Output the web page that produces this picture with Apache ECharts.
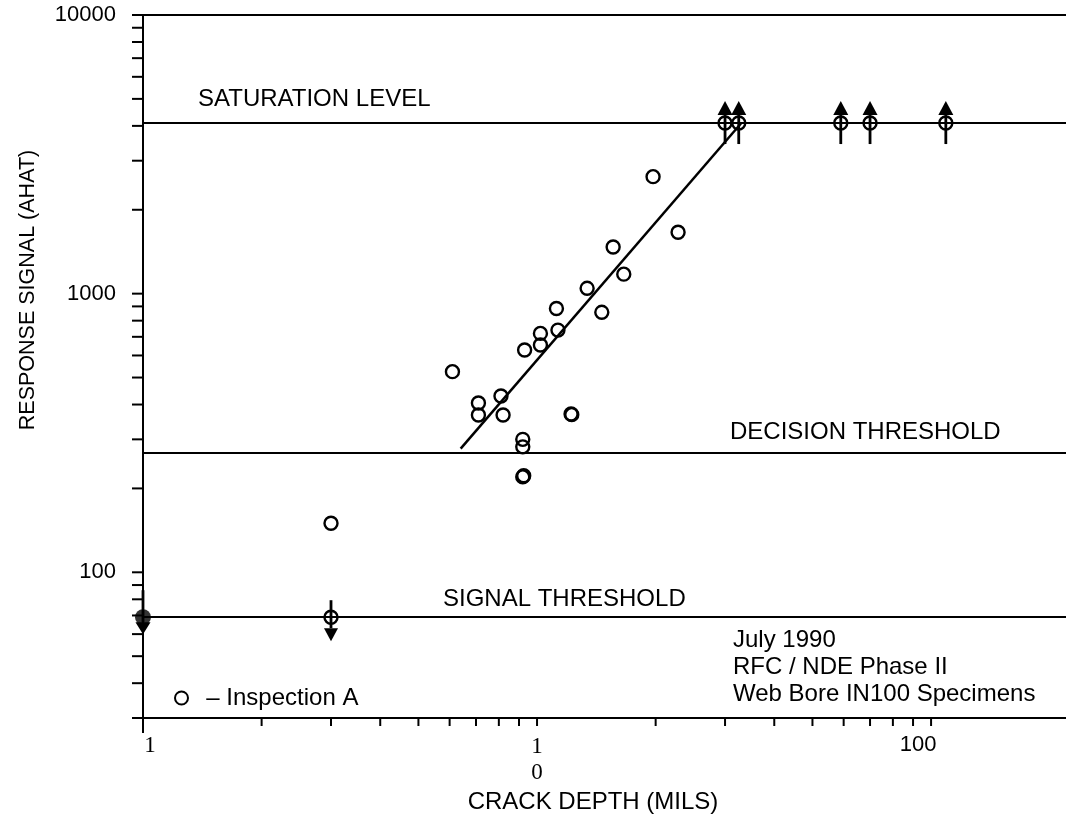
<!DOCTYPE html>
<html><head><meta charset="utf-8">
<script src="https://cdn.jsdelivr.net/npm/echarts@6/dist/echarts.min.js"></script>
<style>html,body{margin:0;padding:0;background:#fff}#c{width:1066px;height:820px}</style>
</head><body><div id="c"></div>
<script>
// ---- data ----
const inspectionA = [
  [3.0,150],[6.1,525],[7.1,405],[7.1,367],[8.1,429],[8.2,367],[9.3,628],[10.2,720],[10.2,654],
  [11.2,885],[11.3,740],[13.4,1045],[14.6,857],[12.2,370],[12.25,368],[9.2,300],[9.2,282],
  [9.2,220],[9.25,222],[19.7,2630],[22.8,1660],[15.6,1470],[16.6,1175]
];
const saturatedUp = [[30,4095],[32.5,4095],[59,4095],[70,4095],[109,4095]];
const censoredDown = [[3.0,69]];
const censoredDownFilled = [[1,69]];
const fitLine = [[6.4,278],[33,4095]];
const saturationLevel = 4095, decisionThreshold = 268, signalThreshold = 69;
const xMin = 1, xMax = 220, yMin = 30, yMax = 10000;
const xTicks = [1,2,3,4,5,6,7,8,9,10,20,30,40,50,60,70,80,90,100];
const yTicks = [30,40,50,60,70,80,90,100,200,300,400,500,600,700,800,900,1000,2000,3000,4000,5000,6000,7000,8000,9000,10000];
const yTickLabels = [100,1000,10000];
const xTickLabels = {1:'{s1|1}', 10:'{s|1}\n{s|0}', 100:'{a|100}'};

const SANS = '"Liberation Sans", Arial, sans-serif';
const SERIF = '"Liberation Serif", "Times New Roman", serif';

function arrowRender(dir, tipOff, baseOff, tailOff, half){
  return function(params, api){
    const p = api.coord([api.value(0), api.value(1)]);
    const x = p[0], y = p[1];
    const tip = y + dir*tipOff, base = y + dir*baseOff, tail = y - dir*tailOff;
    return {type:'group', children:[
      {type:'line', shape:{x1:x,y1:tail,x2:x,y2:base}, style:{stroke:'#000',lineWidth:2.8}},
      {type:'polygon', shape:{points:[[x,tip],[x-half,base],[x+half,base]]}, style:{fill:'#000'}}
    ]};
  };
}
function tickRender(isX, len){
  return function(params, api){
    const c = api.coord([api.value(0), api.value(1)]);
    const s = isX ? {x1:c[0],y1:c[1],x2:c[0],y2:c[1]+len} : {x1:c[0],y1:c[1],x2:c[0]-len,y2:c[1]};
    return {type:'line', shape:s, style:{stroke:'#000', lineWidth:2}};
  };
}

const chart = echarts.init(document.getElementById('c'));
chart.setOption({
  animation:false,
  backgroundColor:'#fff',
  grid:{left:143, top:15, right:0, height:703, outerBoundsMode:'none', containLabel:false},
  xAxis:{
    type:'log', logBase:10, min:xMin, max:xMax,
    axisLine:{show:true, lineStyle:{color:'#000', width:2}},
    axisTick:{show:false}, splitLine:{show:false}, minorTick:{show:false},
    axisLabel:{
      margin:16, color:'#000', showMaxLabel:false,
      formatter:function(v){ const k = Math.round(v); return xTickLabels[k] || ''; },
      rich:{
        s1:{fontFamily:SERIF, fontSize:23, color:'#000', padding:[0,0,0,14]},
        s:{fontFamily:SERIF, fontSize:23, color:'#000', lineHeight:26},
        a:{fontFamily:SANS, fontSize:22, color:'#000', padding:[0,26,0,0]}
      }
    }
  },
  yAxis:{
    type:'log', logBase:10, min:yMin, max:yMax,
    axisLine:{show:true, lineStyle:{color:'#000', width:2}},
    axisTick:{show:false}, splitLine:{show:false}, minorTick:{show:false},
    axisLabel:{
      margin:27, color:'#000', fontSize:22, fontFamily:SANS,
      formatter:function(v){ const k = Math.round(v); return yTickLabels.indexOf(k) >= 0 ? String(k) : ''; }
    }
  },
  legend:{
    left:174, top:686, padding:0, itemWidth:13, itemHeight:13,
    data:[{name:'Inspection A', icon:'circle'}],
    formatter:'  – {name}',
    textStyle:{color:'#000', fontSize:24, fontFamily:SANS}
  },
  series:[
    {
      name:'Inspection A', type:'scatter', symbol:'circle', symbolSize:13, clip:false,
      data: inspectionA.concat(saturatedUp, censoredDown),
      itemStyle:{color:'rgba(0,0,0,0)', borderColor:'#000', borderWidth:2.4, opacity:1},
      markLine:{
        silent:true, symbol:['none','none'], label:{show:false},
        lineStyle:{color:'#000', width:2, type:'solid'},
        data:[{yAxis:saturationLevel},{yAxis:decisionThreshold},{yAxis:signalThreshold},{yAxis:yMax}]
      },
      z:5
    },
    {
      name:'below', type:'scatter', symbol:'circle', symbolSize:16, clip:false,
      data: censoredDownFilled, itemStyle:{color:'#000'}, z:5
    },
    {
      name:'fit', type:'line', data: fitLine, symbol:'none', clip:false,
      lineStyle:{color:'#000', width:2.5}, z:4
    },
    { type:'custom', data: saturatedUp, renderItem: arrowRender(-1, 22, 8, 21, 7.5), z:6, silent:true },
    { type:'custom', data: censoredDown, renderItem: arrowRender(1, 24, 11, 17, 7), z:6, silent:true },
    { type:'custom', data: censoredDownFilled, renderItem: arrowRender(1, 17, 5, 27, 7.5), z:6, silent:true },
    { type:'custom', data: xTicks.map(v=>[v, yMin]), renderItem: tickRender(true, 8), silent:true },
    { type:'custom', data: [[xMin, yMin]], renderItem: tickRender(true, 15), silent:true },
    { type:'custom', data: yTicks.map(v=>[xMin, v]), renderItem: tickRender(false, 11), silent:true }
  ],
  graphic:[
    {type:'text', left:198, top:87, style:{text:'SATURATION LEVEL', fontSize:24, fontFamily:SANS, fill:'#000'}},
    {type:'text', left:730, top:420, style:{text:'DECISION THRESHOLD', fontSize:24, fontFamily:SANS, fill:'#000'}},
    {type:'text', left:443, top:587, style:{text:'SIGNAL THRESHOLD', fontSize:24, fontFamily:SANS, fill:'#000'}},
    {type:'text', left:733, top:627, style:{text:'July 1990\nRFC / NDE Phase II\nWeb Bore IN100 Specimens', fontSize:24, lineHeight:27, fontFamily:SANS, fill:'#000'}},
    {type:'text', x:593, y:802, style:{text:'CRACK DEPTH (MILS)', fontSize:24, fontFamily:SANS, fill:'#000', align:'center', verticalAlign:'middle'}},
    {type:'text', x:28, y:290, rotation:Math.PI/2, style:{text:'RESPONSE SIGNAL (AHAT)', fontSize:21.5, fontFamily:SANS, fill:'#000', align:'center', verticalAlign:'middle'}}
  ]
});
</script></body></html>
